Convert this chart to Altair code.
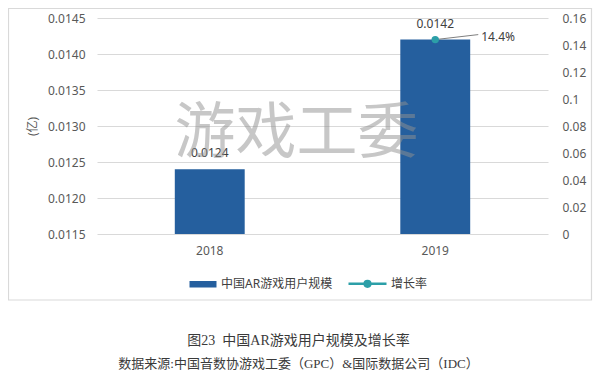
import altair as alt
import pandas as pd

# ---- data ----
years = ["2018", "2019"]
users = [0.0124, 0.0142]          # 中国AR游戏用户规模 (亿)
growth = [None, 0.144]            # 增长率
series = ["中国AR游戏用户规模", "增长率"]
left_ticks = [0.0115, 0.0120, 0.0125, 0.0130, 0.0135, 0.0140, 0.0145]
right_ticks = [0, 0.02, 0.04, 0.06, 0.08, 0.10, 0.12, 0.14, 0.16]
y_title = "(亿)"
title_text = "图23\u2002中国AR游戏用户规模及增长率"
source_text = "数据来源:中国音数协游戏工委（GPC）&国际数据公司（IDC）"
watermark = ["游戏工委"]

BLUE = "#255f9e"
TEAL = "#2c9fa8"
FONT = "Noto Sans, Noto Sans CJK SC"
SERIF = "Liberation Serif, Noto Sans CJK SC"
LABEL = "#595959"

df = pd.DataFrame({"year": years, "users": users, "growth": growth})
leg = pd.DataFrame({"series": series})
wm = pd.DataFrame({"t": watermark})

W, H = 451, 216

x_enc = alt.X(
    "year:N", sort=years,
    scale=alt.Scale(paddingInner=0.69, paddingOuter=0.345),
    axis=alt.Axis(title=None, labelAngle=0, ticks=False, domain=False,
                  labelPadding=11, labelFontSize=12, labelColor=LABEL,
                  labelFont=FONT, grid=False),
)
left_scale = alt.Scale(domain=[left_ticks[0], left_ticks[-1]], nice=False, zero=False)
right_scale = alt.Scale(domain=[right_ticks[0], right_ticks[-1]], nice=False, zero=True)

border = alt.Chart(wm).mark_rect(filled=False, stroke="#d9d9d9", strokeWidth=1.2).encode(
    x=alt.value(-88.5), x2=alt.value(494.5), y=alt.value(-9.5), y2=alt.value(282)
)

bars = alt.Chart(df).mark_bar(color=BLUE, clip=True).encode(
    x=x_enc,
    y=alt.Y("users:Q", scale=left_scale,
            axis=alt.Axis(title=y_title, values=left_ticks, format=".4f",
                          ticks=False, domain=False, grid=True, gridColor="#d9d9d9",
                          gridWidth=1, labelPadding=12, labelFontSize=12,
                          labelColor=LABEL, labelFont=FONT, titleFont=FONT,
                          titleFontSize=12, titleColor=LABEL, titleFontWeight="normal",
                          titlePadding=8)),
)
bar_text = alt.Chart(df).mark_text(dy=-16, fontSize=12, font=FONT, color="#404040",
                                   baseline="middle").encode(
    x=x_enc,
    y=alt.Y("users:Q", scale=left_scale, axis=None),
    text=alt.Text("users:Q", format=".4f"),
)
wm_text = alt.Chart(wm).mark_text(fontSize=61, font="Noto Sans CJK SC", color="#919191",
                                  opacity=0.5, align="center", baseline="middle").encode(
    x=alt.value(199.5), y=alt.value(117), text="t:N"
)

gy = alt.Y("growth:Q", scale=right_scale,
           axis=alt.Axis(orient="right", title=None, values=right_ticks, format="~g",
                         ticks=False, domain=False, grid=False, labelPadding=14,
                         labelFontSize=12, labelColor=LABEL, labelFont=FONT))
gy_noaxis = alt.Y("growth:Q", scale=right_scale, axis=None)

leader = alt.Chart(df).mark_rule(color="#7f7f7f", strokeWidth=1, x2Offset=43, y2Offset=-5).encode(
    x=x_enc, y=gy_noaxis, x2="year:N", y2="growth:Q"
)
pt = alt.Chart(df).mark_point(filled=True, size=55, color=TEAL, opacity=1).encode(
    x=x_enc, y=gy
)
pt_text = alt.Chart(df).mark_text(align="left", baseline="middle", dx=46, dy=-3,
                                  fontSize=12, font=FONT, color="#404040").encode(
    x=x_enc, y=gy_noaxis, text=alt.Text("growth:Q", format=".1%")
)

rect_path = "M-0.355,-0.105H0.934V0.105H-0.355Z"
line_path = "M-1,0L1,0M0.15,0A0.15,0.15,0,1,1,-0.15,0A0.15,0.15,0,1,1,0.15,0Z"
legend_props = dict(title=None, orient="none", legendX=80, legendY=245,
                    direction="horizontal", symbolSize=1444, symbolStrokeWidth=2.5,
                    symbolOpacity=1, labelFontSize=12, labelFont=FONT,
                    labelColor="#404040", labelOffset=3, columnPadding=10, padding=0)
legend_layer = alt.Chart(leg).mark_point(filled=True, opacity=0).encode(
    fill=alt.Fill("series:N", scale=alt.Scale(domain=series, range=[BLUE, TEAL]),
                  legend=alt.Legend(**legend_props)),
    stroke=alt.Stroke("series:N", scale=alt.Scale(domain=series, range=[BLUE, TEAL]),
                      legend=alt.Legend(**legend_props)),
    shape=alt.Shape("series:N", scale=alt.Scale(domain=series, range=[rect_path, line_path]),
                    legend=alt.Legend(**legend_props)),
)

chart = alt.layer(
    border, bars, bar_text, leader, pt, pt_text, wm_text, legend_layer
).resolve_scale(y="independent").properties(
    width=W, height=H,
    padding={"left": 89, "top": 10, "right": 45, "bottom": 136},
    autosize=alt.AutoSizeParams(type="none"),
    title=alt.TitleParams(
        text=title_text, subtitle=source_text, orient="bottom", anchor="middle",
        frame="group", offset=33, dx=-24, font=SERIF, fontSize=14, fontWeight="normal",
        color="#3a3a3a", subtitleFont=SERIF, subtitleFontSize=13, subtitleColor="#3a3a3a",
        subtitlePadding=10,
    ),
).configure_view(strokeWidth=0)

chart.save("out.html", embed_options={"renderer": "svg", "actions": False})
